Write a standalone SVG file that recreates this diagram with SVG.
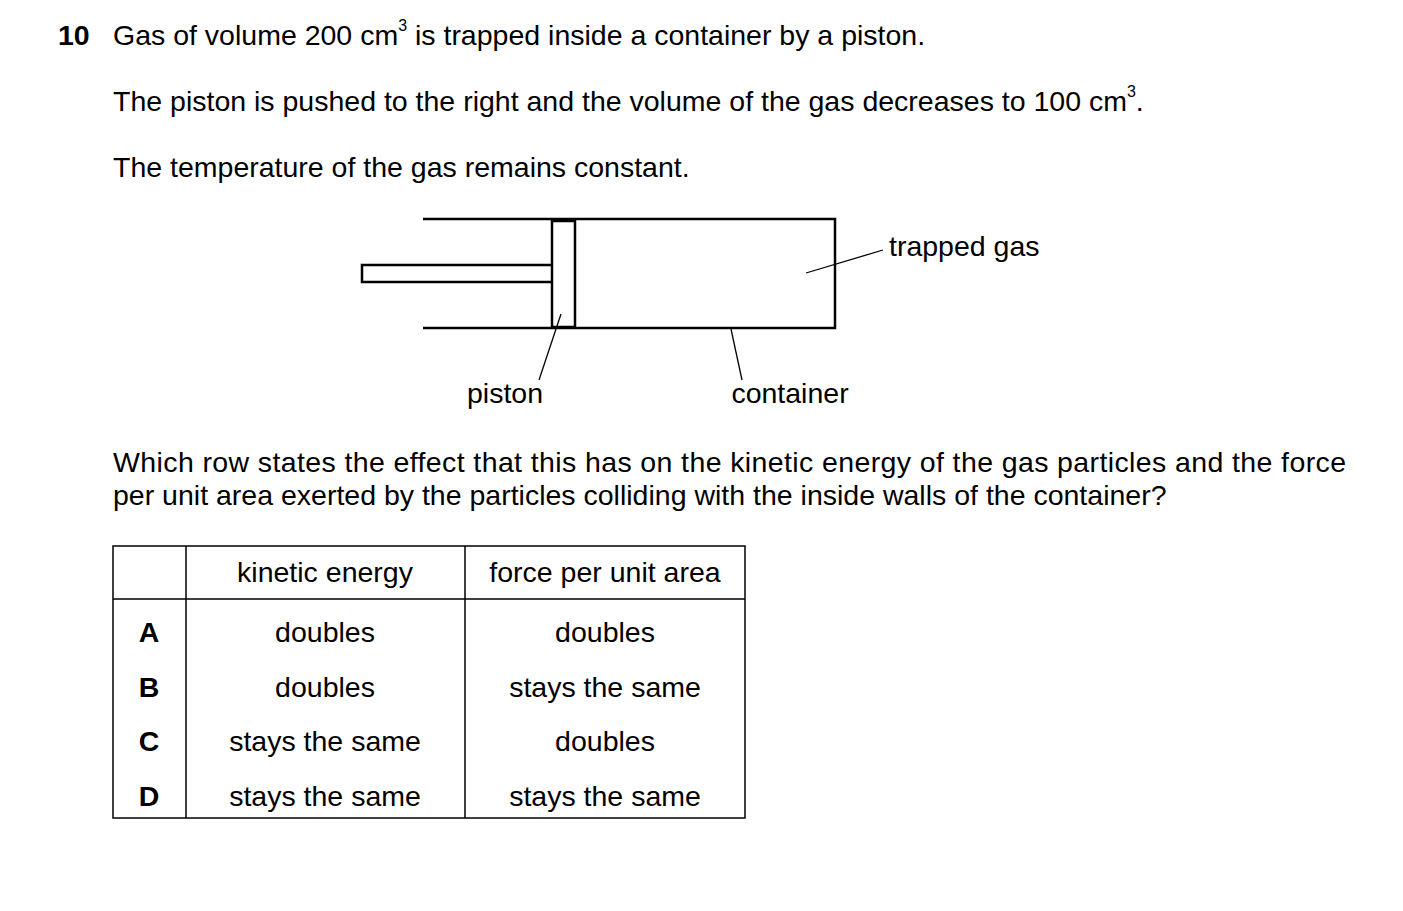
<svg xmlns="http://www.w3.org/2000/svg" width="1403" height="911" viewBox="0 0 1403 911">
<style>
text{font-family:"Liberation Sans",Arial,sans-serif;font-size:28.5px;fill:#000}
.c{text-anchor:middle}
.b{font-weight:bold}
.s{font-size:16px}
.l{stroke:#000;stroke-width:2.5;fill:none}
.t{stroke:#000;stroke-width:1.3;fill:none}
</style>
<rect width="1403" height="911" fill="#fff"/>
<text x="58" y="45" class="b">10</text>
<text x="113" y="45">Gas of volume 200 cm<tspan class="s" dy="-14">3</tspan><tspan dy="14"> is trapped inside a container by a piston.</tspan></text>
<text x="113" y="111">The piston is pushed to the right and the volume of the gas decreases to 100 cm<tspan class="s" dy="-14">3</tspan><tspan dy="14">.</tspan></text>
<text x="113" y="177">The temperature of the gas remains constant.</text>
<g id="container"><path class="l" d="M423 219H835V328H423"/></g>
<g id="piston"><rect class="l" x="552" y="221" width="23" height="106"/><path class="l" d="M552 265H362V282H552"/></g>
<g id="connectors">
<line class="t" x1="561" y1="314" x2="539" y2="380"/>
<line class="t" x1="731" y1="329" x2="742" y2="380"/>
<line class="t" x1="806" y1="273" x2="883" y2="250"/>
</g>
<text x="889" y="256">trapped gas</text>
<text x="505" y="403" class="c">piston</text>
<text x="790" y="403" class="c">container</text>
<text x="113" y="472" textLength="1233">Which row states the effect that this has on the kinetic energy of the gas particles and the force</text>
<text x="113" y="505">per unit area exerted by the particles colliding with the inside walls of the container?</text>
<g id="table">
<rect x="113" y="546" width="632" height="272" fill="none" stroke="#000" stroke-width="1.5"/>
<path d="M186 546V818M465 546V818M113 599H745" stroke="#000" stroke-width="1.5"/>
<text x="325" y="582" class="c">kinetic energy</text>
<text x="605" y="582" class="c">force per unit area</text>
<text x="149" y="642" class="c b">A</text><text x="325" y="642" class="c">doubles</text><text x="605" y="642" class="c">doubles</text>
<text x="149" y="697" class="c b">B</text><text x="325" y="697" class="c">doubles</text><text x="605" y="697" class="c">stays the same</text>
<text x="149" y="751" class="c b">C</text><text x="325" y="751" class="c">stays the same</text><text x="605" y="751" class="c">doubles</text>
<text x="149" y="806" class="c b">D</text><text x="325" y="806" class="c">stays the same</text><text x="605" y="806" class="c">stays the same</text>
</g>
</svg>
